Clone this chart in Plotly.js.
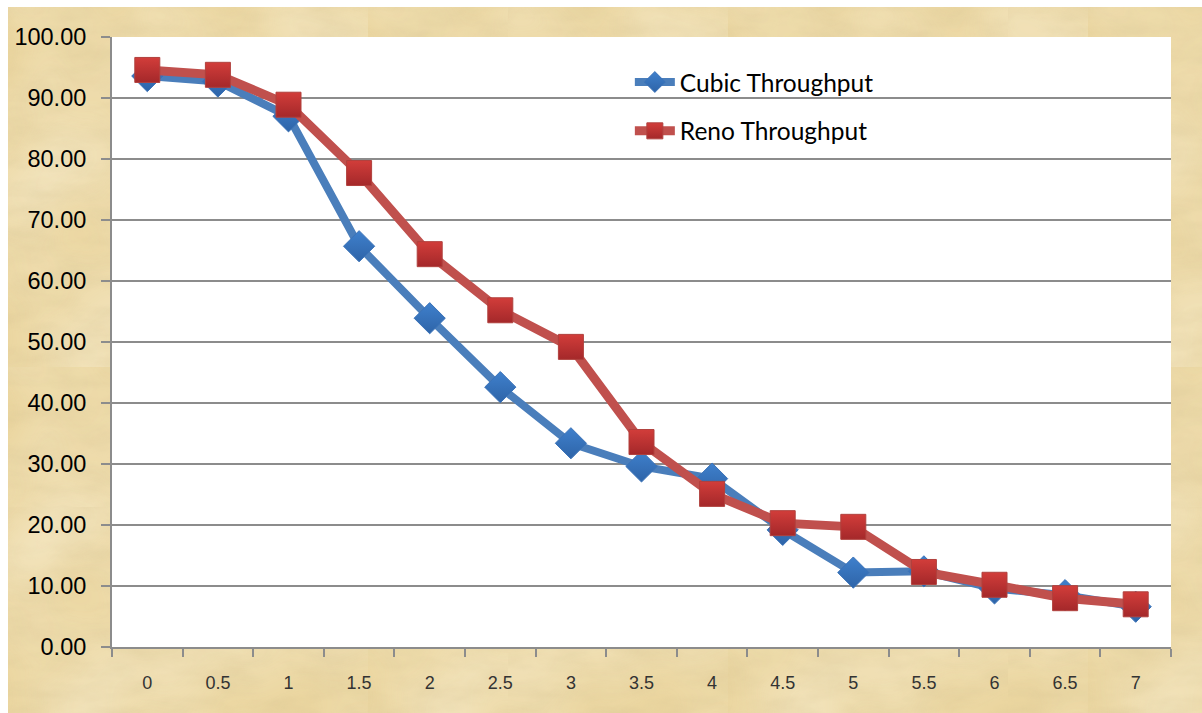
<!DOCTYPE html>
<html>
<head>
<meta charset="utf-8">
<script src="https://cdn.plot.ly/plotly-3.0.1.min.js"></script>
<style>
  html, body { margin: 0; padding: 0; background: #ffffff; }
  #frame {
    position: absolute; left: 0; top: 0; width: 1202px; height: 713px; overflow: hidden;
  }
  /* parchment backdrop */
  #paper {
    position: absolute; left: 8px; top: 7px; right: 0; bottom: 0;
    background-color: #ebd6a0;
    background-image:
      url("data:image/svg+xml;utf8,<svg xmlns='http://www.w3.org/2000/svg' width='500' height='500'><filter id='f'><feTurbulence type='fractalNoise' baseFrequency='0.02 0.05' numOctaves='4' seed='11'/><feColorMatrix values='0 0 0 0 0.62  0 0 0 0 0.50  0 0 0 0 0.26  0 0 0 0.4 -0.12'/></filter><rect width='500' height='500' filter='url(%23f)'/></svg>"),
      url("data:image/svg+xml;utf8,<svg xmlns='http://www.w3.org/2000/svg' width='360' height='360'><filter id='g'><feTurbulence type='fractalNoise' baseFrequency='0.008' numOctaves='2' seed='3'/><feColorMatrix values='0 0 0 0 1  0 0 0 0 0.97  0 0 0 0 0.86  0 0 0 0.7 -0.25'/></filter><rect width='360' height='360' filter='url(%23g)'/></svg>");
  }
  #chart { position: absolute; left: 0; top: 0; width: 1202px; height: 713px; }
</style>
</head>
<body>
<div id="frame">
  <div id="paper"></div>
  <div id="chart"></div>
</div>
<script>
// Loss rate categories along the x axis
const lossRates = ['0', '0.5', '1', '1.5', '2', '2.5', '3', '3.5', '4', '4.5', '5', '5.5', '6', '6.5', '7'];

// Throughput (%) for each congestion control algorithm
const cubicThroughput = [93.6, 92.7, 87.0, 65.7, 53.9, 42.6, 33.4, 29.6, 27.6, 19.2, 12.2, 12.4, 9.6, 8.5, 6.6];
const renoThroughput  = [94.6, 93.8, 88.9, 77.7, 64.4, 55.2, 49.2, 33.6, 25.1, 20.3, 19.7, 12.3, 10.2, 8.0, 7.0];

const yTicks = [0, 10, 20, 30, 40, 50, 60, 70, 80, 90, 100];

const traces = [
  {
    x: lossRates, y: cubicThroughput, name: 'Cubic Throughput',
    type: 'scatter', mode: 'lines+markers', legendgroup: 'cubic',
    line: { color: '#4a7ebb', width: 8 },
    marker: {
      symbol: 'diamond', size: 24, color: '#3f80cc',
      gradient: { type: 'vertical', color: '#2e64a8' },
      line: { color: '#3a72b8', width: 1 }
    }
  },
  {
    x: lossRates, y: renoThroughput, name: 'Reno Throughput',
    type: 'scatter', mode: 'lines+markers', legendgroup: 'reno',
    line: { color: '#c0504d', width: 9 },
    marker: {
      symbol: 'square', size: 25, color: '#d23d3a',
      gradient: { type: 'vertical', color: '#a4282a' },
      line: { color: '#b0403d', width: 1 }
    }
  }
];

const layout = {
  width: 1202, height: 713,
  margin: { l: 112, r: 31, t: 37, b: 66 },
  paper_bgcolor: 'rgba(0,0,0,0)',
  plot_bgcolor: '#ffffff',
  showlegend: true,
  legend: {
    x: 0.489, y: 0.963, xanchor: 'left', yanchor: 'top',
    bgcolor: 'rgba(0,0,0,0)',
    font: { family: 'Lato, "Liberation Sans", sans-serif', size: 24.5, color: '#000000' },
    traceorder: 'grouped', tracegroupgap: 14,
    itemwidth: 40
  },
  xaxis: {
    type: 'category',
    categoryorder: 'array', categoryarray: lossRates,
    range: [-0.5, lossRates.length - 0.5],
    showgrid: false, zeroline: false,
    showline: true, linecolor: '#8c8c8c', linewidth: 2,
    ticks: 'outside', tickson: 'boundaries', ticklen: 8, tickwidth: 2, tickcolor: '#8c8c8c',
    ticklabelstandoff: 18,
    tickfont: { family: '"Liberation Sans", Arial, sans-serif', size: 18, color: '#333333' },
    fixedrange: true
  },
  yaxis: {
    range: [0, 100],
    tickvals: yTicks, tickformat: '.2f',
    showgrid: true, gridcolor: '#8c8c8c', gridwidth: 2,
    zeroline: false,
    showline: true, linecolor: '#8c8c8c', linewidth: 2,
    ticks: 'outside', ticklen: 9, tickwidth: 2, tickcolor: '#8c8c8c',
    ticklabelstandoff: 10,
    tickfont: { family: '"Liberation Sans", Arial, sans-serif', size: 23.5, color: '#000000' },
    fixedrange: true
  }
};

Plotly.newPlot('chart', traces, layout, { displayModeBar: false, staticPlot: true });
</script>
</body>
</html>
